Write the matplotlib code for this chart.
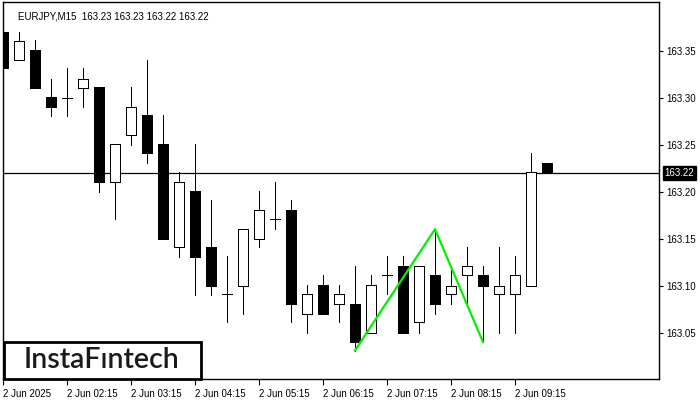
import matplotlib
matplotlib.use("Agg")
import matplotlib.pyplot as plt
from matplotlib.patches import Rectangle

# ---- data ----
opens  = [163.370, 163.340, 163.351, 163.301, 163.300, 163.310, 163.311, 163.210, 163.260, 163.281,
          163.251, 163.141, 163.201, 163.141, 163.091, 163.100, 163.150, 163.171, 163.180, 163.070,
          163.101, 163.081, 163.081, 163.050, 163.111, 163.121, 163.061, 163.111, 163.091, 163.111,
          163.111, 163.091, 163.091, 163.100, 163.230]
highs  = [163.381, 163.370, 163.361, 163.320, 163.331, 163.331, 163.311, 163.251, 163.311, 163.340,
          163.281, 163.221, 163.251, 163.191, 163.131, 163.160, 163.201, 163.210, 163.191, 163.101,
          163.111, 163.101, 163.121, 163.111, 163.131, 163.131, 163.121, 163.160, 163.121, 163.141,
          163.121, 163.141, 163.131, 163.241, 163.230]
lows   = [163.319, 163.340, 163.310, 163.280, 163.280, 163.290, 163.200, 163.171, 163.250, 163.230,
          163.150, 163.130, 163.090, 163.090, 163.061, 163.070, 163.141, 163.160, 163.061, 163.050,
          163.070, 163.061, 163.031, 163.050, 163.091, 163.050, 163.050, 163.070, 163.081, 163.081,
          163.040, 163.050, 163.050, 163.100, 163.221]
closes = [163.331, 163.360, 163.310, 163.290, 163.300, 163.320, 163.210, 163.251, 163.290, 163.241,
          163.150, 163.210, 163.130, 163.100, 163.091, 163.160, 163.180, 163.171, 163.081, 163.091,
          163.070, 163.091, 163.040, 163.101, 163.111, 163.050, 163.121, 163.081, 163.100, 163.121,
          163.100, 163.100, 163.111, 163.221, 163.221]

time_labels = ["2 Jun 2025", "2 Jun 02:15", "2 Jun 03:15", "2 Jun 04:15", "2 Jun 05:15",
               "2 Jun 06:15", "2 Jun 07:15", "2 Jun 08:15", "2 Jun 09:15"]
label_step = 4

pattern_idx = [22, 27, 30]
pattern_values = [163.031, 163.160, 163.040]

current_price = 163.22
y_ticks = [163.05, 163.10, 163.15, 163.20, 163.25, 163.30, 163.35]
title = "EURJPY,M15  163.23 163.23 163.22 163.22"

# ---- figure ----
W, H = 700, 400
fig = plt.figure(figsize=(W / 100, H / 100), dpi=100)
fig.patch.set_facecolor("white")
ax = fig.add_axes([2.5 / W, 21 / H, 656.5 / W, 377 / H])
ax.set_xlim(-0.03, 41.0)
ax.set_ylim(163.0007, 163.4017)

font = "Liberation Sans"
px = 0.72  # one pixel in points
body_w = 0.62
for i, (o, h, l, c) in enumerate(zip(opens, highs, lows, closes)):
    ax.vlines(i, l, h, color="black", linewidth=px, zorder=2, antialiased=False)
    if abs(c - o) < 1e-9:
        ax.hlines(o, i - body_w / 2, i + body_w / 2, color="black", linewidth=px, zorder=3,
                  antialiased=False)
    else:
        fc = "white" if c > o else "black"
        ax.bar(i, abs(c - o), bottom=min(o, c), width=body_w, facecolor=fc, edgecolor="black",
               linewidth=px, zorder=3, antialiased=False)

# current price line
ax.axhline(current_price, color="black", linewidth=0.9, zorder=1)

# pattern lines
ax.plot(pattern_idx, pattern_values, color="#00F000", linewidth=1.6, zorder=4)

# axes styling
for s in ax.spines.values():
    s.set_linewidth(1.0)
    s.set_color("black")
ax.yaxis.tick_right()
ax.set_yticks(y_ticks)
ax.set_yticklabels([f"{v:.2f}" for v in y_ticks], fontsize=7, family=font)
ax.tick_params(axis="y", length=3, width=0.8, pad=2)
xt = [k * label_step for k in range(len(time_labels))]
ax.set_xticks(xt)
ax.set_xticklabels(time_labels, fontsize=7, family=font, ha="left")
ax.tick_params(axis="x", length=4, width=0.8, pad=3)

# current price label box on right axis
ax.annotate(f"{current_price:.2f}", xy=(1.0, current_price), xycoords=("axes fraction", "data"),
            xytext=(4, 0), textcoords="offset points", ha="left", va="center",
            fontsize=7, family=font, color="white",
            bbox=dict(boxstyle="square,pad=0.2", fc="black", ec="black"))

# title
ax.text(16 / 656.5, 0.975, title, transform=ax.transAxes, fontsize=7, family=font,
        ha="left", va="top", color="black")

# logo
fig.patches.append(Rectangle((4 / W, 21.5 / H), 197 / W, 37 / H, transform=fig.transFigure,
                             facecolor="white", edgecolor="black", linewidth=2.0, zorder=10))
fig.text(101.5 / W, 40.5 / H, "InstaF\u0131ntech", fontsize=20.5, family="Lato", weight="semibold",
         color="#1a1a1a", ha="center", va="center", zorder=11)

fig.savefig("out.png", dpi=100)
